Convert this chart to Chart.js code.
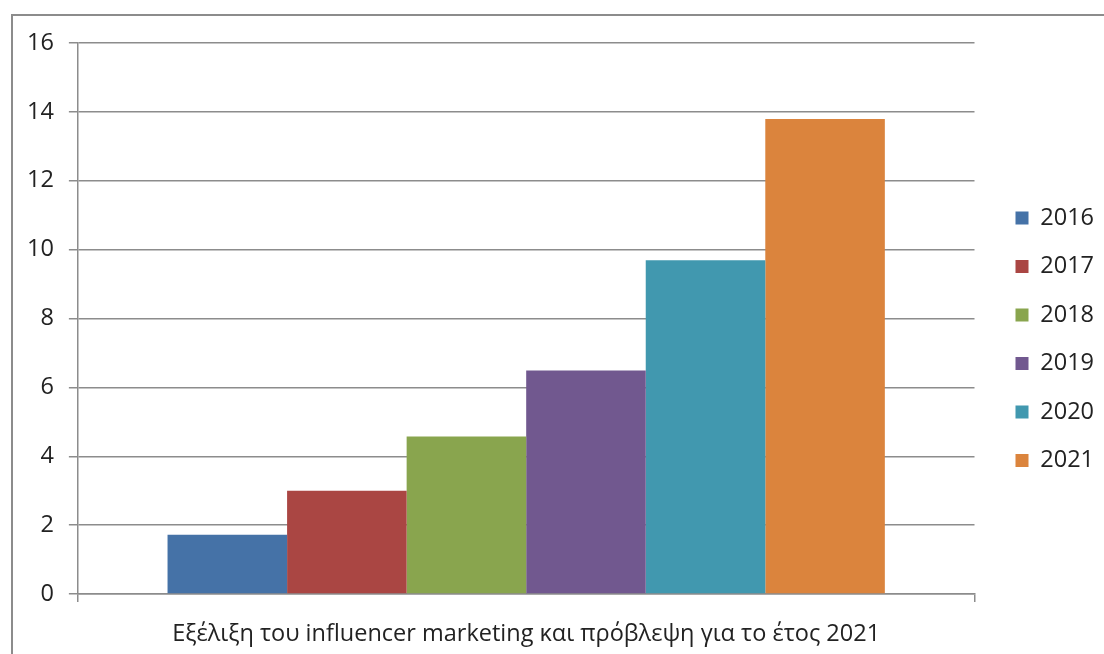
<!DOCTYPE html>
<html>
<head>
<meta charset="utf-8">
<script src="https://cdn.jsdelivr.net/npm/chart.js@4.4.1/dist/chart.umd.min.js"></script>
<style>
  html, body { margin: 0; padding: 0; background: #fff; }
  body { width: 1104px; height: 654px; position: relative; overflow: hidden; }
  #frame {
    position: absolute; left: 11px; top: 14px; width: 1100px; height: 650px;
    border-left: 2px solid #8c8c8c; border-top: 2px solid #8c8c8c;
  }
  #wrap { position: absolute; left: 13px; top: 16px; width: 1091px; height: 638px; }
</style>
</head>
<body>
<div id="frame"></div>
<div id="wrap"><canvas id="myChart"></canvas></div>
<script>
const categories = ["Εξέλιξη του influencer marketing και πρόβλεψη για το έτος 2021"];
const years = ["2016", "2017", "2018", "2019", "2020", "2021"];
const values = [1.72, 3.0, 4.57, 6.49, 9.69, 13.79];
const colors = ["#4572A7", "#AA4643", "#89A54E", "#71588F", "#4198AF", "#DB843D"];
const yTicks = [0, 2, 4, 6, 8, 10, 12, 14, 16];

document.addEventListener("DOMContentLoaded", function () {
  const ctx = document.getElementById("myChart").getContext("2d");
  Chart.defaults.font.family = "'Open Sans', sans-serif";
  Chart.defaults.color = "#222";
  const fontSize = 23.5;

  const data = {
    labels: categories,
    datasets: years.map(function (y, i) {
      return {
        label: y,
        data: [values[i]],
        backgroundColor: colors[i],
        borderWidth: 0,
      };
    }),
  };

  new Chart(ctx, {
    type: "bar",
    data,
    options: {
      responsive: true,
      maintainAspectRatio: false,
      animation: false,
      categoryPercentage: 0.8,
      barPercentage: 1.0,
      layout: { padding: { top: 9.9, left: -1, right: 0, bottom: 1.4 } },
      scales: {
        x: {
          grid: { drawOnChartArea: false, drawTicks: true, tickLength: 8, color: "#8c8c8c", lineWidth: 1.5 },
          border: { color: "#8c8c8c", width: 1.5 },
          ticks: { font: { size: fontSize }, color: "#222", padding: 18 },
          afterFit: function (scale) {
            scale.height = 58.6;
          },
        },
        y: {
          min: 0,
          max: 16,
          afterBuildTicks: function (axis) {
            axis.ticks = yTicks.map(function (v) { return { value: v }; });
          },
          afterFit: function (scale) {
            scale.paddingTop = 27;
          },
          grid: { color: "#8c8c8c", lineWidth: 1.5, tickLength: 9 },
          border: { color: "#8c8c8c", width: 1.5 },
          ticks: { font: { size: fontSize }, color: "#222", padding: 15 },
        },
        // empty axis, just leaves a gap between plot and legend
        yRight: {
          type: "linear",
          position: "right",
          grid: { display: false, drawTicks: false },
          border: { display: false },
          ticks: { display: false },
          afterFit: function (scale) {
            scale.width = 16;
          },
        },
      },
      plugins: {
        legend: {
          display: true,
          position: "right",
          labels: {
            boxWidth: 13,
            boxHeight: 13,
            padding: 25,
            font: { size: fontSize },
            color: "#222",
          },
        },
        tooltip: { enabled: false },
      },
    },
  });
});
</script>
</body>
</html>
